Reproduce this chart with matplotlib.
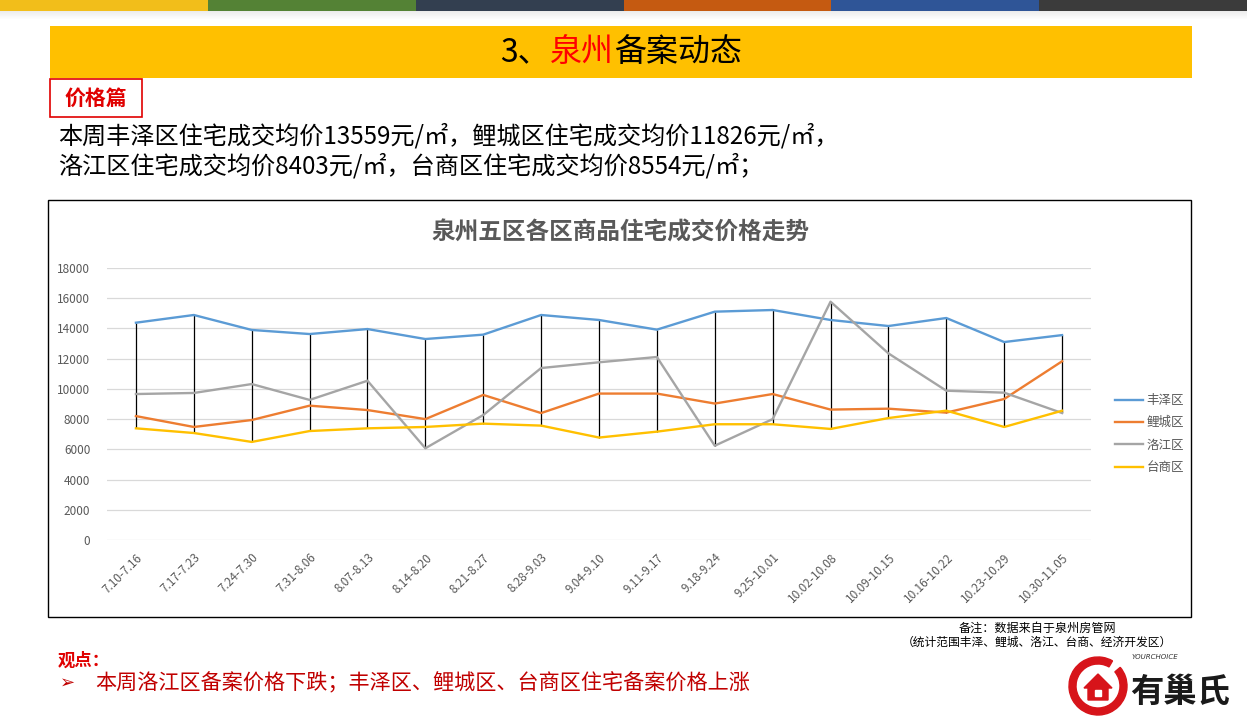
import matplotlib
matplotlib.use("Agg")
import matplotlib.pyplot as plt
from matplotlib.patches import Rectangle, Wedge, Polygon
import numpy as np

plt.rcParams['font.family'] = ['Noto Sans CJK SC', 'DejaVu Sans']

weeks = ["7.10-7.16", "7.17-7.23", "7.24-7.30", "7.31-8.06", "8.07-8.13", "8.14-8.20",
         "8.21-8.27", "8.28-9.03", "9.04-9.10", "9.11-9.17", "9.18-9.24", "9.25-10.01",
         "10.02-10.08", "10.09-10.15", "10.16-10.22", "10.23-10.29", "10.30-11.05"]
fengze = [14380, 14890, 13900, 13630, 13960, 13300, 13590, 14890, 14560, 13920, 15110, 15220,
          14560, 14160, 14690, 13100, 13559]
licheng = [8200, 7480, 7940, 8890, 8600, 8000, 9600, 8400, 9690, 9690, 9030, 9660,
           8630, 8690, 8430, 9330, 11826]
luojiang = [9660, 9730, 10320, 9270, 10540, 6070, 8270, 11380, 11760, 12110, 6240, 8000,
            15770, 12350, 9880, 9750, 8403]
taishang = [7390, 7080, 6490, 7210, 7390, 7480, 7700, 7570, 6780, 7170, 7660, 7660,
            7350, 8070, 8560, 7480, 8554]
series_names = ["丰泽区", "鲤城区", "洛江区", "台商区"]
series_colors = ["#5B9BD5", "#ED7D31", "#A5A5A5", "#FFC000"]
yticks = list(range(0, 18001, 2000))

W, H = 1247, 718
fig = plt.figure(figsize=(W / 100, H / 100), dpi=100)
fig.patch.set_facecolor("white")
renderer = fig.canvas.get_renderer()


def fx(x):
    return x / W


def fy(y):
    return 1 - y / H


def rect(x0, y0, x1, y1, **kw):
    fig.patches.append(Rectangle((fx(x0), fy(y1)), fx(x1) - fx(x0), fy(y0) - fy(y1),
                                 transform=fig.transFigure, **kw))


# top colour stripe
stripe_colors = ["#F2BE1A", "#548235", "#333F50", "#C55A11", "#2F5597", "#3B3B3B"]
seg = W / 6
for i, c in enumerate(stripe_colors):
    rect(i * seg, 0, (i + 1) * seg, 11, facecolor=c, edgecolor="none")
for k in range(8):
    a = 0.18 * (1 - k / 8)
    rect(0, 11 + k, W, 12 + k, facecolor=(0.6, 0.6, 0.6, a), edgecolor="none")

# yellow header bar
rect(50, 26, 1192, 78, facecolor="#FFC000", edgecolor="none")
parts = [("3、", "black"), ("泉州", "#FF0000"), ("备案动态", "black")]
xpos = 500
for txt, col in parts:
    t = fig.text(fx(xpos), fy(52), txt, fontsize=23, color=col, ha="left", va="center")
    bb = t.get_window_extent(renderer=renderer)
    xpos += bb.width

# 价格篇 box
rect(50, 79, 142, 117, facecolor="white", edgecolor="#E00000", linewidth=1.2)
fig.text(fx(96), fy(98), "价格篇", fontsize=15, color="#E00000", fontweight="bold",
         ha="center", va="center")

fig.text(fx(58), fy(137), "本周丰泽区住宅成交均价13559元/㎡，鲤城区住宅成交均价11826元/㎡，",
         fontsize=17.4, color="black", ha="left", va="center")
fig.text(fx(58), fy(166), "洛江区住宅成交均价8403元/㎡，台商区住宅成交均价8554元/㎡；",
         fontsize=17.4, color="black", ha="left", va="center")

# chart frame
rect(48, 200, 1191, 617, facecolor="none", edgecolor="black", linewidth=1.0)
fig.text(fx(620), fy(233), "泉州五区各区商品住宅成交价格走势", fontsize=17, color="#595959",
         fontweight="bold", ha="center", va="center")

ax = fig.add_axes([fx(107), fy(540), fx(1091) - fx(107), fy(268) - fy(540)])
ax.set_facecolor("none")
x = np.arange(len(weeks))
data = [fengze, licheng, luojiang, taishang]
arr = np.array(data)
ax.vlines(x, arr.min(axis=0), arr.max(axis=0), color="black", linewidth=0.9, zorder=2)
handles = []
for vals, name, col in zip(data, series_names, series_colors):
    h, = ax.plot(x, vals, color=col, linewidth=1.7, label=name, zorder=3)
    handles.append(h)
ax.set_xlim(-0.5, len(weeks) - 0.5)
ax.set_ylim(0, 18000)
ax.set_yticks(yticks)
ax.set_yticklabels([str(v) for v in yticks])
ax.yaxis.grid(True, color="#D9D9D9", linewidth=0.9)
ax.set_axisbelow(True)
for s in ax.spines.values():
    s.set_visible(False)
ax.tick_params(axis="both", length=0, colors="#595959", labelsize=8.5)
ax.tick_params(axis="y", pad=12)
ax.set_xticks(x)
ax.set_xticklabels(weeks, rotation=45, ha="right", rotation_mode="anchor")
ax.tick_params(axis="x", pad=8)

leg = fig.legend(handles=handles, labels=series_names, loc="center left",
                 bbox_to_anchor=(fx(1104), fy(434)), frameon=False, fontsize=9,
                 labelcolor="#595959", handlelength=2.2, handletextpad=0.3,
                 labelspacing=0.75)

# footnote
fig.text(fx(1037), fy(628), "备注：数据来自于泉州房管网", fontsize=8.7, color="black",
         ha="center", va="center")
fig.text(fx(1037), fy(642), "（统计范围丰泽、鲤城、洛江、台商、经济开发区）", fontsize=8.5,
         color="black", ha="center", va="center")

# viewpoint
fig.text(fx(58), fy(661), "观点：", fontsize=12.5, color="#E00000", fontweight="bold",
         ha="left", va="center")
fig.text(fx(60), fy(683), "➢", fontsize=13, color="#C00000", ha="left", va="center",
         family=["DejaVu Sans"], fontweight="bold")
fig.text(fx(95), fy(683), "本周洛江区备案价格下跌；丰泽区、鲤城区、台商区住宅备案价格上涨",
         fontsize=15.2, color="#C00000", ha="left", va="center")

# logo
lax = fig.add_axes([fx(1062), fy(716), fx(1242) - fx(1062), fy(652) - fy(716)])
lax.set_xlim(0, 180)
lax.set_ylim(0, 64)
lax.set_aspect("equal")
lax.axis("off")
lax.add_patch(Wedge((36, 30), 29, 60, 400, width=7, color="#D7141A"))
lax.add_patch(Polygon([[22, 28], [36, 42], [50, 28], [46, 28], [46, 16], [26, 16], [26, 28]],
                      closed=True, color="#D7141A"))
lax.add_patch(Rectangle((33, 20), 6, 6, color="white"))
lax.text(70, 62, "YOURCHOICE", fontsize=5, style="italic", color="#333333",
         ha="left", va="top", family=["DejaVu Sans"])
lax.text(68, 24, "有巢氏", fontsize=24, fontweight="bold", color="#1A1A1A",
         ha="left", va="center", style="italic")

fig.savefig("out.png", dpi=100)
